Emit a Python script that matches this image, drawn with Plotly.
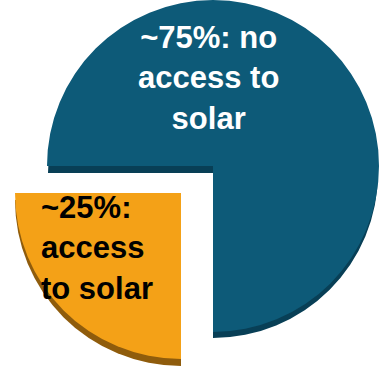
import plotly.graph_objects as go

# ---- data ----
labels = ["~25%: access to solar", "~75%: no access to solar"]
values = [25, 75]
label_texts = ["~25%:<br>access<br>to solar", "~75%: no<br>access to<br>solar"]

# ---- styling ----
W, H = 380, 368
face_colors = ["#f4a117", "#0d5a78"]
side_colors = ["#8f5c0c", "#083f56"]
CLEAR = "rgba(0,0,0,0)"
R = 166
SHADOW = 8
FONT = "Liberation Sans, Arial, sans-serif"

def dom(cx, cy, r, dy=0):
    cyb = H - (cy + dy)
    return dict(x=[(cx - r) / W, (cx + r) / W], y=[(cyb - r) / H, (cyb + r) / H])

def pie_trace(colors, domain):
    return go.Pie(
        labels=labels, values=values, sort=False, direction="clockwise",
        rotation=180, marker=dict(colors=colors, line=dict(width=0)),
        textinfo="none", hoverinfo="label", showlegend=False, domain=domain,
    )

teal_c = (213, 166)
orange_c = (181, 193)

fig = go.Figure()
# teal slice: side (shadow) then face
fig.add_trace(pie_trace([CLEAR, side_colors[1]], dom(*teal_c, R - 1, SHADOW - 1)))
fig.add_trace(pie_trace([CLEAR, face_colors[1]], dom(*teal_c, R)))
# orange slice (exploded)
fig.add_trace(pie_trace([side_colors[0], CLEAR], dom(*orange_c, R, SHADOW - 1)))
fig.add_trace(pie_trace([face_colors[0], CLEAR], dom(*orange_c, R)))

fig.add_annotation(
    text=label_texts[1], xref="paper", yref="paper",
    x=208 / W, y=(H - 78) / H, xanchor="center", yanchor="middle",
    align="center", showarrow=False,
    font=dict(family=FONT, size=31, color="white", weight="bold"),
)
fig.add_annotation(
    text=label_texts[0], xref="paper", yref="paper",
    x=39 / W, y=(H - 248) / H, xanchor="left", yanchor="middle",
    align="left", showarrow=False,
    font=dict(family=FONT, size=31, color="black", weight="bold"),
)

fig.update_layout(
    width=W, height=H, margin=dict(l=0, r=0, t=0, b=0),
    paper_bgcolor="white", plot_bgcolor="white",
)
fig.write_html(
    "out.html",
    config={"displayModeBar": False},
    post_script="document.body.style.margin='0';",
)
